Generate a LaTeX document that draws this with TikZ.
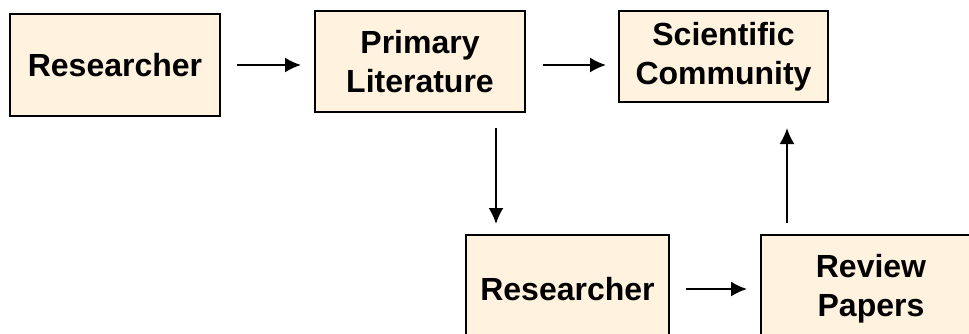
\documentclass[tikz,border=0pt]{standalone}
\usepackage{fontspec}
\setmainfont{Liberation Sans}
\usetikzlibrary{arrows.meta}
\definecolor{boxfill}{RGB}{255,242,223}
\begin{document}
\begin{tikzpicture}[x=.5pt,y=-.5pt,line width=1pt,>={Latex[length=8pt,width=7.5pt]},
  line join=miter,font=\fontsize{16}{19.5}\selectfont\bfseries,
  box/.style={draw,fill=boxfill,inner sep=0pt,align=center}]
  \useasboundingbox (0,0) rectangle (969,333);
  \clip (0,0) rectangle (969,333);
  % top row
  \node[box,minimum width=105pt,minimum height=51pt] (res1) at (115,65) {Researcher};
  \node[box,minimum width=105pt,minimum height=50.5pt] (prim) at (420,61.5) {Primary\\Literature};
  \node[box,minimum width=104.5pt,minimum height=45.5pt] (sci) at (723.5,56.5) {Scientific\\Community};
  % bottom row, cut by the edge
  \node[box,minimum width=101.5pt,minimum height=54pt] (res2) at (567.5,289) {Researcher};
  \node[box,minimum width=110pt,minimum height=54pt] (rev) at (871,289) {Review\\Papers};
  % arrows
  \draw[->,shorten <=8pt,shorten >=6.5pt] (res1.east) -- (res1.east -| prim.west);
  \draw[->,shorten <=8.5pt,shorten >=6pt] (res1.east -| prim.east) -- (res1.east -| sci.west);
  \draw[->,shorten <=7.5pt,shorten >=5pt] ([xshift=-15pt]prim.south east)
    -- ([xshift=-15pt]prim.south east |- res2.north);
  \draw[->,shorten <=8pt,shorten >=6.5pt] (res2.east) -- (rev.west);
  \draw[->,shorten <=5.5pt,shorten >=12.5pt] ([xshift=13.5pt]rev.north west)
    -- ([xshift=13.5pt]rev.north west |- sci.south);
\end{tikzpicture}
\end{document}
